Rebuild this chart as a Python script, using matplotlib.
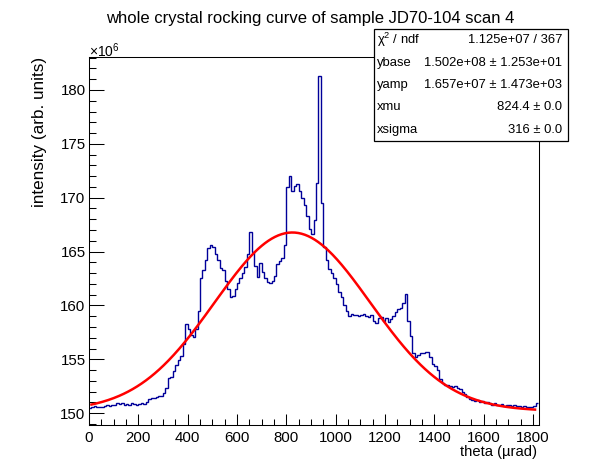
import numpy as np
import matplotlib
matplotlib.use("Agg")
import matplotlib.pyplot as plt

plt.rcParams["font.family"] = ["Liberation Sans", "DejaVu Sans"]
plt.rcParams["mathtext.fontset"] = "custom"
plt.rcParams["mathtext.rm"] = "Liberation Sans"

# histogram: bin width 10 urad, 0 .. 1820, intensity in units of 1e6
bin_edges = np.arange(0, 1830, 10)
intensity = [
    150.5, 150.6, 150.7, 150.6, 150.6, 150.55, 150.7, 150.75, 150.7, 150.8,
    150.75, 150.9, 150.85, 150.9, 150.8, 150.85, 150.8, 150.9, 150.85, 150.8,
    150.85, 150.9, 150.85, 151.0, 151.35, 151.4, 151.4, 151.5, 151.55, 151.6,
    151.85, 152.3, 153.3, 153.4, 153.9, 154.5, 154.9, 155.3, 156.4, 158.3,
    157.8, 157.3, 157.05, 157.8, 159.5, 162.5, 163.3, 164.2, 165.3, 165.6,
    165.4, 164.8, 164.2, 163.5, 163.3, 162.3, 161.5, 160.8, 160.9, 161.5,
    162.1, 162.5, 163.0, 163.6, 164.8, 166.8, 165.0, 163.7, 162.6, 163.9,
    163.1, 162.5, 162.2, 162.1, 162.3, 162.7, 163.8, 164.1, 164.4, 165.6,
    171.0, 172.0, 170.6, 171.1, 171.3, 170.6, 170.0, 169.3, 168.3, 167.1,
    166.6, 167.9, 171.4, 181.3, 169.5, 165.4, 164.2, 163.4, 163.0, 162.5,
    162.0, 161.2, 160.8, 160.0, 159.5, 159.0, 159.2, 159.1, 159.15, 159.0,
    159.1, 159.2, 159.0, 158.9, 159.1, 158.6, 158.4, 158.8, 158.9, 158.6,
    158.8, 158.5, 158.7, 159.0, 159.4, 159.7, 159.8, 160.2, 161.1, 158.6,
    157.2, 155.6, 155.2, 155.4, 155.6, 155.6, 155.7, 155.65, 155.2, 154.6,
    154.4, 154.0, 153.2, 152.8, 152.6, 152.6, 152.5, 152.4, 152.5, 152.3,
    152.2, 152.0, 151.8, 151.5, 151.3, 151.2, 151.1, 151.2, 151.0, 151.1,
    150.9, 151.0, 150.9, 150.8, 150.9, 150.8, 150.75, 150.85, 150.7, 150.8,
    150.75, 150.7, 150.8, 150.65, 150.7, 150.6, 150.65, 150.55, 150.6, 150.55,
    150.7, 150.9,
]

# fit result (gaussian on a flat base), as in the stats box
ybase = 1.502e8
yamp = 1.657e7
xmu = 824.4
xsigma = 316.0
fit_range = (10, 1808)

stat_labels = ["\u03c7$^{2}$ / ndf", "ybase", "yamp", "xmu", "xsigma"]
stat_values = ["1.125e+07 / 367", "1.502e+08 \u00b1 1.253e+01",
               "1.657e+07 \u00b1 1.473e+03", "824.4 \u00b1 0.0", "316 \u00b1 0.0"]

W, H = 598, 474
fig = plt.figure(figsize=(W / 100, H / 100), dpi=100)
ax = fig.add_axes([89 / W, 1 - 425 / H, (538.5 - 89) / W, (425 - 57) / H])

ax.stairs(intensity, bin_edges, baseline=None, color="#000099", lw=1.0)

xf = np.linspace(fit_range[0], fit_range[1], 400)
yf = ybase + yamp * np.exp(-0.5 * ((xf - xmu) / xsigma) ** 2)
ax.plot(xf, yf / 1e6, color="red", lw=1.8)

ax.set_xlim(0, 1822)
ax.set_ylim(148.9, 183.06)
ax.set_xticks(np.arange(0, 1801, 200))
ax.set_xticks(np.arange(0, 1821, 50), minor=True)
ax.set_yticks(np.arange(150, 181, 5))
ax.set_yticks(np.arange(149, 184, 1), minor=True)
ax.tick_params(which="both", direction="in", top=False, right=False, width=0.75)
ax.tick_params(axis="x", which="major", length=8, pad=4, labelsize=10.8)
ax.tick_params(axis="x", which="minor", length=4)
ax.tick_params(axis="y", which="major", length=10.5, pad=2.5, labelsize=10.8)
ax.tick_params(axis="y", which="minor", length=5)
for s in ax.spines.values():
    s.set_linewidth(0.75)

fig.text(89 / W, 1 - 51 / H, "\u00d710$^{6}$", ha="left", va="center", fontsize=10)
fig.text(310 / W, 1 - 18 / H, "whole crystal rocking curve of sample JD70-104 scan 4",
         ha="center", va="center", fontsize=12)
fig.text(40 / W, 1 - 57 / H, "intensity (arb. units)", rotation=90,
         ha="center", va="top", fontsize=12.3)
fig.text(537 / W, 1 - 452 / H, "theta (\u00b5rad)", ha="right", va="center", fontsize=10.6)

# stats box
bx0, bx1, by0, by1 = 374, 568, 29, 141
fig.patches.append(plt.Rectangle((bx0 / W, 1 - by1 / H), (bx1 - bx0) / W, (by1 - by0) / H,
                                 transform=fig.transFigure, facecolor="white",
                                 edgecolor="black", lw=0.9, zorder=5))
row_h = (by1 - by0) / len(stat_labels)
for i, (lab, val) in enumerate(zip(stat_labels, stat_values)):
    yc = 1 - (by0 + row_h * (i + 0.5)) / H
    fig.text(377 / W, yc, lab, ha="left", va="center", fontsize=9.4, zorder=6)
    fig.text(562 / W, yc, val, ha="right", va="center", fontsize=9.4, zorder=6)

fig.savefig("out.png", dpi=100)
